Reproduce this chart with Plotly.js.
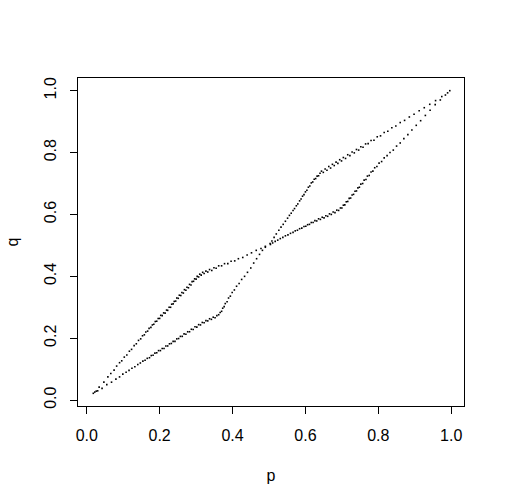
<!DOCTYPE html>
<html>
<head>
<meta charset="utf-8">
<script src="https://cdn.plot.ly/plotly-3.0.1.min.js"></script>
<style>html,body{margin:0;padding:0;background:#fff;}#chart{width:505px;height:504px;}</style>
</head>
<body>
<div id="chart"></div>
<script>
// Branch A: lower-left lens, upper edge
var pA = [0.018,0.026,0.034,0.047,0.058,0.066,0.075,0.082,0.090,0.096,0.103,0.110,0.117,0.123,0.130,0.136,0.142,0.148,0.153,0.158,0.162,0.167,0.171,0.176,0.180,0.184,0.188,0.192,0.196,0.200,0.203,0.207,0.211,0.215,0.219,0.222,0.226,0.230,0.233,0.237,0.240,0.244,0.247,0.251,0.254,0.258,0.261,0.265,0.268,0.272,0.275,0.279,0.282,0.286,0.289,0.293,0.296,0.300,0.303,0.307,0.310,0.314,0.318,0.322,0.327,0.332,0.337,0.343,0.349,0.355,0.362,0.370,0.378,0.387,0.396,0.406,0.416,0.428,0.440,0.452,0.465,0.478,0.490];
var qA = [0.022,0.029,0.042,0.058,0.075,0.086,0.097,0.110,0.121,0.127,0.139,0.146,0.158,0.164,0.176,0.182,0.193,0.198,0.208,0.211,0.220,0.223,0.232,0.235,0.243,0.245,0.254,0.255,0.264,0.264,0.274,0.273,0.282,0.281,0.291,0.290,0.300,0.300,0.310,0.311,0.319,0.320,0.330,0.329,0.339,0.338,0.348,0.346,0.357,0.355,0.365,0.363,0.374,0.372,0.383,0.384,0.392,0.391,0.400,0.398,0.407,0.404,0.413,0.409,0.417,0.414,0.422,0.419,0.428,0.426,0.434,0.434,0.441,0.441,0.449,0.450,0.457,0.461,0.469,0.476,0.484,0.490,0.497];
// Branch B: lower-left lens, lower edge
var pB = [0.022,0.030,0.042,0.055,0.068,0.080,0.090,0.099,0.108,0.116,0.124,0.132,0.140,0.147,0.154,0.160,0.166,0.172,0.177,0.182,0.187,0.192,0.197,0.202,0.207,0.212,0.217,0.222,0.227,0.232,0.237,0.242,0.247,0.252,0.257,0.262,0.267,0.272,0.277,0.282,0.287,0.292,0.297,0.302,0.307,0.312,0.317,0.322,0.327,0.332,0.337,0.342,0.347,0.352,0.357,0.362,0.366,0.370,0.373,0.377,0.380,0.385,0.389,0.394,0.399,0.405,0.411,0.418,0.425,0.433,0.441,0.450,0.458,0.466,0.474,0.482,0.490];
var qB = [0.026,0.030,0.038,0.050,0.058,0.068,0.075,0.084,0.090,0.096,0.103,0.108,0.115,0.120,0.126,0.129,0.135,0.137,0.144,0.145,0.152,0.153,0.160,0.160,0.167,0.167,0.175,0.175,0.182,0.183,0.190,0.190,0.198,0.199,0.206,0.206,0.214,0.213,0.221,0.221,0.229,0.228,0.237,0.236,0.244,0.243,0.251,0.250,0.257,0.256,0.263,0.261,0.268,0.266,0.273,0.276,0.283,0.287,0.297,0.302,0.312,0.318,0.330,0.336,0.348,0.356,0.368,0.377,0.390,0.400,0.413,0.427,0.443,0.457,0.471,0.484,0.494];
// Branch C: upper-right lens, upper edge
var pC = [0.503,0.508,0.514,0.520,0.527,0.533,0.539,0.545,0.551,0.556,0.561,0.566,0.570,0.575,0.579,0.584,0.588,0.592,0.596,0.600,0.604,0.608,0.612,0.616,0.620,0.624,0.628,0.632,0.636,0.640,0.644,0.649,0.654,0.659,0.664,0.669,0.674,0.679,0.684,0.689,0.694,0.699,0.704,0.710,0.716,0.722,0.728,0.734,0.740,0.746,0.752,0.758,0.765,0.772,0.780,0.788,0.797,0.806,0.816,0.826,0.837,0.848,0.860,0.872,0.885,0.898,0.912,0.926,0.941,0.957,0.974,0.990];
var qC = [0.506,0.514,0.526,0.537,0.549,0.559,0.568,0.578,0.588,0.597,0.604,0.613,0.619,0.628,0.634,0.644,0.650,0.659,0.664,0.673,0.678,0.688,0.692,0.702,0.705,0.714,0.716,0.724,0.725,0.733,0.740,0.736,0.747,0.743,0.755,0.750,0.762,0.758,0.769,0.765,0.777,0.773,0.784,0.781,0.793,0.790,0.802,0.799,0.810,0.808,0.819,0.817,0.828,0.829,0.839,0.840,0.851,0.854,0.865,0.869,0.880,0.886,0.897,0.904,0.915,0.924,0.935,0.945,0.956,0.968,0.981,0.993];
// Branch D: upper-right lens, lower edge
var pD = [0.504,0.510,0.517,0.524,0.531,0.538,0.545,0.552,0.559,0.566,0.572,0.578,0.584,0.590,0.596,0.601,0.606,0.611,0.616,0.621,0.626,0.631,0.636,0.641,0.646,0.651,0.656,0.661,0.666,0.671,0.676,0.681,0.686,0.691,0.696,0.700,0.704,0.708,0.712,0.716,0.720,0.724,0.728,0.732,0.736,0.740,0.744,0.748,0.752,0.757,0.761,0.766,0.770,0.775,0.780,0.785,0.790,0.796,0.802,0.809,0.816,0.824,0.832,0.841,0.850,0.860,0.870,0.881,0.892,0.904,0.916,0.929,0.942,0.956,0.970,0.984,0.996];
var qD = [0.503,0.508,0.513,0.517,0.522,0.526,0.531,0.534,0.539,0.542,0.547,0.549,0.554,0.556,0.561,0.562,0.567,0.568,0.574,0.574,0.580,0.579,0.586,0.584,0.591,0.589,0.596,0.594,0.602,0.600,0.608,0.606,0.614,0.613,0.621,0.621,0.630,0.631,0.641,0.642,0.652,0.653,0.663,0.665,0.675,0.676,0.686,0.688,0.698,0.700,0.711,0.713,0.724,0.726,0.737,0.740,0.751,0.755,0.766,0.771,0.783,0.790,0.800,0.808,0.821,0.831,0.845,0.858,0.873,0.888,0.903,0.920,0.937,0.955,0.970,0.986,1.000];

var tickVals = [0, 0.2, 0.4, 0.6, 0.8, 1.0];
var tickText = ["0.0", "0.2", "0.4", "0.6", "0.8", "1.0"];

var mk = {size: 1.6, color: "#000", symbol: "square", line: {width: 0}};
function tr(p, q) { return {x: p, y: q, type: "scatter", mode: "markers", marker: mk, hoverinfo: "skip"}; }
var data = [tr(pA, qA), tr(pB, qB), tr(pC, qC), tr(pD, qD)];

var fnt = {family: "Liberation Sans, Arial, sans-serif", size: 16, color: "#000"};
var axBase = {
  showgrid: false, zeroline: false, showline: true, mirror: true,
  linecolor: "#000", linewidth: 1, ticks: "outside", ticklen: 7, tickwidth: 1,
  tickcolor: "#000", tickvals: tickVals, ticktext: tickText, tickfont: fnt
};
var layout = {
  width: 505, height: 504, showlegend: false,
  paper_bgcolor: "#fff", plot_bgcolor: "#fff",
  margin: {l: 78, r: 41, t: 78, b: 98},
  font: fnt,
  xaxis: Object.assign({}, axBase, {range: [-0.024, 1.035], ticklabelstandoff: 8, title: {text: "p", font: fnt, standoff: 26}}),
  yaxis: Object.assign({}, axBase, {range: [-0.019, 1.041], tickangle: -90, ticklabelstandoff: 8, title: {text: "q", font: fnt, standoff: 18}})
};
Plotly.newPlot("chart", data, layout, {displayModeBar: false, staticPlot: true});
</script>
</body>
</html>
